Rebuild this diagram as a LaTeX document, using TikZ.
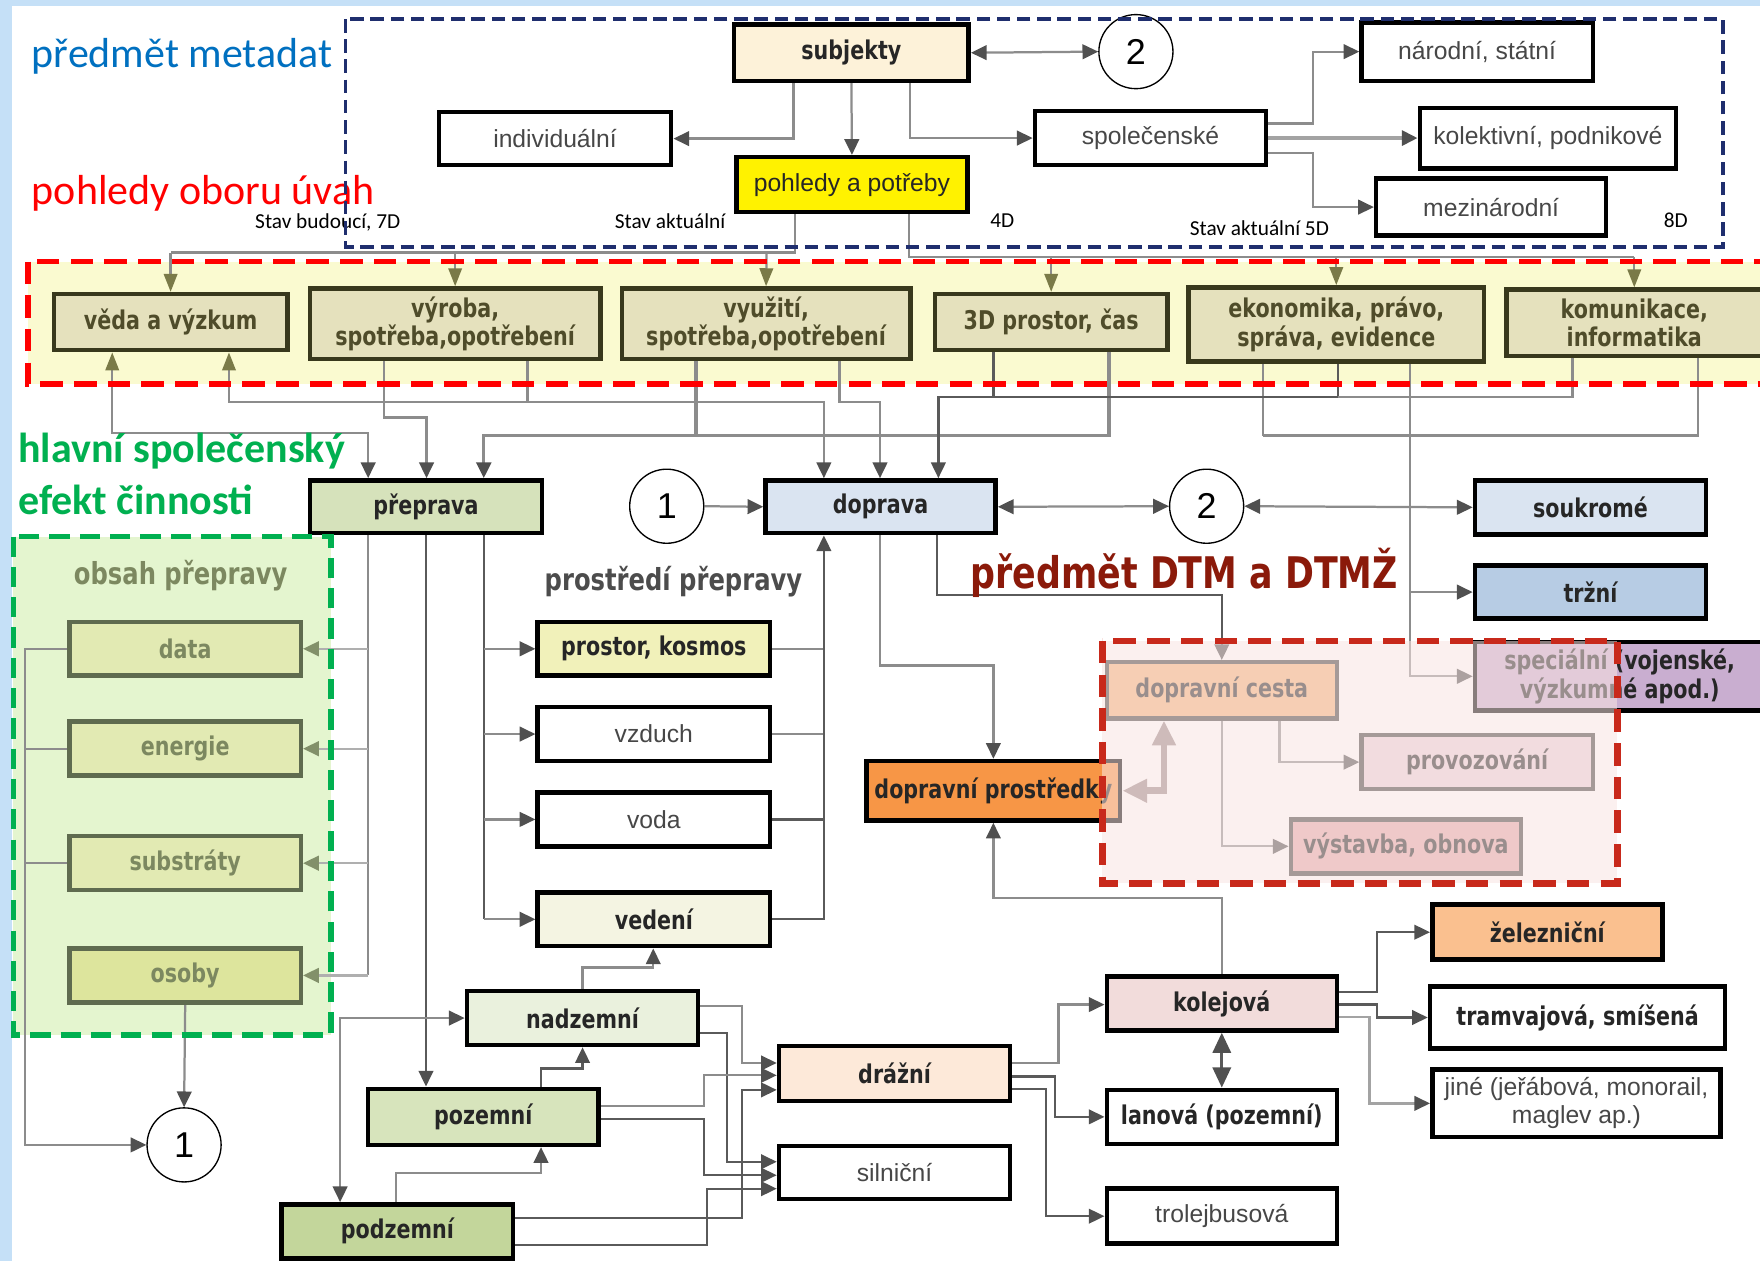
\documentclass[tikz,border=0pt]{standalone}
\usepackage{fontspec}
\setmainfont{DejaVu Sans}
\newfontfamily\djc[FakeStretch=0.8]{DejaVu Sans}
\newfontfamily\libs{Liberation Sans}
\newfontfamily\carl{Carlito}
\usetikzlibrary{arrows.meta,calc}
\definecolor{bgblue}{HTML}{C5E0F7}
\definecolor{cream}{HTML}{FDF2D9}
\definecolor{bandfill}{HTML}{FAFAD0}
\definecolor{bandnode}{HTML}{E5E1BD}
\definecolor{bandborder}{HTML}{38381C}
\definecolor{bandtext}{HTML}{4F4C2A}
\definecolor{olivetip}{HTML}{7A7A48}
\definecolor{prepfill}{HTML}{D6E2BB}
\definecolor{doprfill}{HTML}{DAE4F1}
\definecolor{trzfill}{HTML}{B7CCE4}
\definecolor{greenfill}{HTML}{E4F5CF}
\definecolor{contfill}{HTML}{E2EAB3}
\definecolor{osobyfill}{HTML}{DDE59D}
\definecolor{contborder}{HTML}{5F6B4F}
\definecolor{conttext}{HTML}{7C8860}
\definecolor{conttip}{HTML}{82906A}
\definecolor{kosmosfill}{HTML}{F1F1BA}
\definecolor{vedenifill}{HTML}{F4F4E2}
\definecolor{orangefill}{HTML}{F79646}
\definecolor{cestafill}{HTML}{F3B47C}
\definecolor{provozfill}{HTML}{EBD4DC}
\definecolor{vystavfill}{HTML}{E5AAAC}
\definecolor{specialfill}{HTML}{C9AED0}
\definecolor{nadzfill}{HTML}{EAF1DD}
\definecolor{pozemfill}{HTML}{D7E4BC}
\definecolor{podzfill}{HTML}{C3D69B}
\definecolor{draznifill}{HTML}{FDE9D9}
\definecolor{kolejfill}{HTML}{F2DCDB}
\definecolor{zelezfill}{HTML}{FAC08F}
\definecolor{lgray}{HTML}{8C8C8C}
\definecolor{dgray}{HTML}{5A5A5A}
\definecolor{tipgray}{HTML}{505050}
\definecolor{bandred}{HTML}{FF0000}
\definecolor{metablue}{HTML}{1F2E6E}
\definecolor{pinkborder}{HTML}{C8291B}
\definecolor{pinkov}{HTML}{F9E4E2}
\definecolor{titleblue}{HTML}{0070C0}
\definecolor{titlegreen}{HTML}{00B050}
\definecolor{dtmred}{HTML}{8B1A0A}
\definecolor{fatgray}{HTML}{9A8A8A}
\pgfdeclarelayer{regions}
\pgfdeclarelayer{edges}
\pgfdeclarelayer{over}
\pgfsetlayers{regions,edges,main,over}
\newcommand\bxn[6]{\node[#6, minimum width={(#4-#2)*0.5pt}, minimum height={(#5-#3)*0.5pt}] (#1) at ({(#2+#4)/2},{(#3+#5)/2})}
\tikzset{
  bx/.style={draw=black, line width=2pt, rectangle, inner sep=1pt, align=center, fill=white},
  tb/.style={font=\djc\bfseries\fontsize{11.5}{13}\selectfont, text=black!85},
  tn/.style={font=\libs\fontsize{11}{12.5}\selectfont, text=black!72},
  bandbx/.style={bx, draw=bandborder, fill=bandnode, font=\djc\bfseries\fontsize{11.5}{12.5}\selectfont, text=bandtext},
  cont/.style={bx, draw=contborder, fill=contfill, font=\djc\bfseries\fontsize{11.5}{13}\selectfont, text=conttext},
  num/.style={circle, draw=black, line width=0.6pt, minimum size=33pt, inner sep=0pt, fill=white, font=\libs\fontsize{16}{16}\selectfont},
  ln/.style={draw=lgray, line width=1pt},
  dln/.style={draw=dgray, line width=1pt},
  tipg/.style={-{Triangle[length=7pt,width=6.5pt,color=tipgray]}},
  ar/.style={ln, tipg},
  dar/.style={ln, {Triangle[length=7pt,width=6.5pt,color=tipgray]}-{Triangle[length=7pt,width=6.5pt,color=tipgray]}},
  arO/.style={ln, -{Triangle[length=8pt,width=6pt,color=olivetip]}},
  arOb/.style={ln, {Triangle[length=8pt,width=6pt,color=olivetip]}-{Triangle[length=7pt,width=6.5pt,color=tipgray]}},
  arG/.style={draw=lgray!70, line width=1pt, -{Triangle[length=7pt,width=6.5pt,color=conttip]}},
  sm/.style={font=\carl\fontsize{9.5}{11}\selectfont, inner sep=0pt},
}
\begin{document}
\begin{tikzpicture}[x=0.5pt,y=-0.5pt]
\useasboundingbox (0,0) rectangle (1568,1123);
\begin{pgfonlayer}{regions}
\fill[bgblue] (0,0) rectangle (1568,1123);
\fill[white] (11,5) rectangle (1568,1123);
\fill[bandfill] (25,233) rectangle (1575,342);
\fill[greenfill] (12,478) rectangle (295,922);
\end{pgfonlayer}

% ---------- titles ----------
\node[font=\carl\fontsize{18.7}{20}\selectfont, text=titleblue, anchor=west, inner sep=0pt] (t1) at (28,50) {předmět metadat};
\node[font=\carl\fontsize{18.7}{20}\selectfont, text=bandred, anchor=west, inner sep=0pt] (t2) at (28,172) {pohledy oboru úvah};
\node[sm] (s1) at (292,198) {Stav budoucí, 7D};
\node[sm] (s2) at (597,197) {Stav aktuální};
\node[sm] (s3) at (893,197) {4D};
\node[sm] (s4) at (1122,203) {Stav aktuální 5D};
\node[sm] (s5) at (1493,196) {8D};
\node[font=\carl\bfseries\fontsize{18.7}{20}\selectfont, text=titlegreen, anchor=west, inner sep=0pt] (t3) at (16,402) {hlavní společenský};
\node[font=\carl\bfseries\fontsize{18.7}{20}\selectfont, text=titlegreen, anchor=west, inner sep=0pt] (t4) at (16,445) {efekt činnosti};
\node[font=\djc\bfseries\fontsize{13.5}{15}\selectfont, text=conttext] (t5) at (161,513) {obsah přepravy};
\node[font=\djc\bfseries\fontsize{13.5}{15}\selectfont, text=black!70] (t6) at (600,518) {prostředí přepravy};
\node[font=\djc\bfseries\fontsize{19.4}{21}\selectfont, text=dtmred] (t7) at (1055,510) {předmět DTM a DTMŽ};

% ---------- top nodes ----------
\bxn{subj}{654}{22}{863}{72}{bx,tb,fill=cream}{subjekty};
\node[num] (c2t) at (1012,46) {2};
\bxn{indiv}{391}{100}{598}{147}{bx,tn}{individuální};
\bxn{pohl}{656}{140}{862}{189}{bx,tn,fill=yellow,text=black!85}{pohledy a potřeby};
\bxn{spol}{922}{99}{1128}{147}{bx,tn}{společenské};
\bxn{narod}{1213}{20}{1419}{72}{bx,tn}{národní, státní};
\bxn{kolekt}{1265}{96}{1493}{150}{bx,tn}{kolektivní, podnikové};
\bxn{mezin}{1226}{159}{1431}{210}{bx,tn}{mezinárodní};

% ---------- band ----------
\bxn{veda}{48}{262}{256}{312}{bandbx}{věda a výzkum};
\bxn{vyroba}{276}{257}{535}{320}{bandbx}{výroba,\\spotřeba,opotřebení};
\bxn{vyuziti}{554}{257}{811}{320}{bandbx}{využití,\\spotřeba,opotřebení};
\bxn{prost3d}{833}{262}{1040}{312}{bandbx}{3D prostor, čas};
\bxn{ekon}{1059}{256}{1322}{322}{bandbx}{ekonomika, právo,\\správa, evidence};
\bxn{komun}{1342}{258}{1570}{317}{bandbx}{komunikace,\\informatika};

% ---------- row 2 ----------
\bxn{prep}{276}{428}{483}{475}{bx,tb,fill=prepfill}{přeprava};
\node[num] (c1) at (594,451) {1};
\bxn{dopr}{682}{428}{887}{475}{bx,tb,fill=doprfill}{doprava};
\node[num] (c2) at (1075,451) {2};
\bxn{soukr}{1314}{428}{1520}{476}{bx,tb,fill=doprfill}{soukromé};
\bxn{trzni}{1314}{504}{1520}{551}{bx,tb,fill=trzfill}{tržní};

% ---------- content ----------
\bxn{data}{62}{554}{268}{602}{cont}{data};
\bxn{energie}{62}{643}{268}{691}{cont}{energie};
\bxn{substr}{62}{745}{268}{793}{cont}{substráty};
\bxn{osoby}{62}{845}{268}{893}{cont,fill=osobyfill}{osoby};
\node[num] (c1b) at (164,1020) {1};

% ---------- environment ----------
\bxn{kosmos}{479}{554}{686}{602}{bx,tb,fill=kosmosfill}{prostor, kosmos};
\bxn{vzduch}{479}{630}{686}{678}{bx,tn}{vzduch};
\bxn{voda}{479}{706}{686}{754}{bx,tn}{voda};
\bxn{vedeni}{479}{795}{686}{843}{bx,tb,fill=vedenifill}{vedení};

% ---------- DTM ----------
\bxn{prostr}{772}{678}{998}{731}{bx,tb,fill=orangefill}{dopravní prostředky};
\bxn{cesta}{986}{590}{1191}{640}{bx,tb,fill=cestafill,draw=black!75}{dopravní cesta};
\bxn{provoz}{1213}{655}{1419}{703}{bx,tb,fill=provozfill,draw=black!75}{provozování};
\bxn{vystav}{1150}{730}{1355}{778}{bx,tb,fill=vystavfill,draw=black!75}{výstavba, obnova};
\bxn{special}{1314}{572}{1572}{633}{bx,tb,fill=specialfill}{speciální (vojenské,\\výzkumné apod.)};

% ---------- bottom ----------
\bxn{nadz}{416}{883}{622}{931}{bx,tb,fill=nadzfill}{nadzemní};
\bxn{pozem}{328}{970}{533}{1020}{bx,tb,fill=pozemfill}{pozemní};
\bxn{podz}{251}{1073}{457}{1121}{bx,tb,fill=podzfill}{podzemní};
\bxn{drazni}{694}{932}{900}{981}{bx,tb,fill=draznifill}{drážní};
\bxn{silni}{694}{1021}{900}{1068}{bx,tn}{silniční};
\bxn{kolej}{986}{870}{1191}{918}{bx,tb,fill=kolejfill}{kolejová};
\bxn{lanova}{986}{971}{1191}{1019}{bx,tb}{lanová (pozemní)};
\bxn{trolej}{986}{1059}{1191}{1108}{bx,tn}{trolejbusová};
\bxn{zelez}{1276}{806}{1481}{855}{bx,tb,fill=zelezfill}{železniční};
\bxn{tramv}{1274}{879}{1537}{934}{bx,tb}{tramvajová, smíšená};
\bxn{jine}{1276}{953}{1533}{1013}{bx,tn}{jiné (jeřábová, monorail,\\maglev ap.)};

% ---------- connectors ----------
\begin{pgfonlayer}{edges}
% top
\draw[dar] (subj.east) -- (c2t.west);
\draw[ar] (subj.south -| 707,0) |- (indiv.east);
\draw[ar] (subj.south) -- (pohl.north);
\draw[ar] (subj.south -| 811,0) |- (spol.west);
\draw[ar] (spol.east |- 0,110) -- (1170,110) |- (narod.west);
\draw[ar, line width=2pt, draw=lgray!80] (spol.east) -- (kolekt.west);
\draw[ar] (spol.east |- 0,136) -- (1170,136) |- (mezin.west);
% into band
\draw[ln] (pohl.south -| 708,0) |- (152,225);
\draw[arO] (152,225) -- (veda.north);
\draw[arO] (405.5,225) -- (vyroba.north);
\draw[arO] (683,225) -- (vyuziti.north);
\draw[ln] (pohl.south -| 810,0) |- (1456,229);
\draw[arO] (936.5,229) -- (prost3d.north);
\draw[arO] (1190.5,229) -- (ekon.north);
\draw[arO] (1456,229) -- (komun.north);
% below band
\draw[arOb] (veda.south -| 100,0) |- (328,386) -- (prep.north -| 328,0);
\draw[arOb] (veda.south -| 204,0) |- (734,358) -- (dopr.north -| 734,0);
\draw[ln] (vyroba.south -| 470,0) -- (470,358);
\draw[ar] (vyroba.south -| 342,0) |- (380,372) -- (prep.north -| 380,0);
\draw[ar, line width=1.5pt] (vyuziti.south -| 620,0) |- (431,388) -- (prep.north -| 431,0);
\draw[ln, line width=1.5pt] (prost3d.south -| 988,0) |- (620,388);
\draw[ln] (ekon.south -| 1125,0) -- (1125,388);
\draw[ln] (komun.south -| 1513,0) |- (1125,388);
\draw[ar] (vyuziti.south -| 748,0) |- (784,358) -- (dopr.north -| 784,0);
\draw[ar, draw=dgray] (prost3d.south -| 885,0) |- (836,354) -- (dopr.north -| 836,0);
\draw[dln] (ekon.south -| 1192,0) |- (885,354);
\draw[ln] (komun.south -| 1401,0) |- (1192,354);
\draw[ar] (ekon.south -| 1256,0) |- (trzni.west);
\draw[ar] (1256,527.5) |- (special.west);
% row 2
\draw[ar] (c1.east) -- (dopr.west);
\draw[dar] (dopr.east) -- (c2.west);
\draw[dar] (c2.east) -- (soukr.west);
% content
\draw[ln] (prep.south -| 328,0) -- (328,869);
\draw[arG] (328,578) -- (data.east);
\draw[arG] (328,667) -- (energie.east);
\draw[arG] (328,769) -- (substr.east);
\draw[arG] (328,869) -- (osoby.east);
\draw[ar] (data.west) -- (22,578) |- (c1b.west);
\draw[ln] (energie.west) -- (22,667);
\draw[ln] (substr.west) -- (22,769);
\draw[ar] (osoby.south) -- (c1b.north);
\draw[ar, draw=dgray] (prep.south) -- (pozem.north -| prep.south);
% environment
\draw[dln] (prep.south -| 431,0) -- (431,819);
\draw[ar] (431,578) -- (kosmos.west);
\draw[ar] (431,654) -- (vzduch.west);
\draw[ar] (431,730) -- (voda.west);
\draw[ar] (431,819) -- (vedeni.west);
\draw[ln] (kosmos.east) -- (734,578);
\draw[ln] (vzduch.east) -- (734,654);
\draw[dln] (voda.east) -- (734,730);
\draw[ar, draw=dgray] (vedeni.east) -| (dopr.south -| 734,0);
\draw[ar] (dopr.south -| 784,0) |- (885,593) -- (prostr.north);
\draw[ar, draw=dgray] (dopr.south -| 835,0) |- (1088.5,530) -- (cesta.north);
\draw[draw=fatgray, line width=3pt, {Triangle[length=11pt,width=10pt]}-{Triangle[length=11pt,width=10pt]}] (cesta.south -| 1037,0) |- (prostr.east);
\draw[ar] (cesta.south -| 1140,0) |- (provoz.west);
\draw[ar] (cesta.south) |- (vystav.west);
\draw[ar] (kolej.north) |- (885,800) -- (prostr.south);
% bottom
\coordinate (j1) at (380,907);
\draw[ar] (j1) -- (nadz.west);
\draw[ar] (j1) -| (podz.north -| 303,0);
\draw[ar] (nadz.north) |- (582,862) -- (vedeni.south -| 582,0);
\draw[ar, draw=dgray] (pozem.north -| 482,0) |- (519,952) -- (nadz.south);
\draw[ar] (podz.north -| 353,0) |- (482,1045) -- (pozem.south -| 482,0);
\draw[ar] (nadz.east |- 0,896) -| (661,947) -- (drazni.west |- 0,947);
\draw[ar, draw=dgray] (nadz.east |- 0,920) -| (648,1035) -- (silni.west |- 0,1035);
\draw[ar] (pozem.east |- 0,985) -| (627,958) -- (drazni.west |- 0,958);
\draw[ar, draw=dgray] (pozem.east |- 0,997) -| (627,1047) -- (silni.west |- 0,1047);
\draw[ar, draw=dgray] (podz.east |- 0,1085) -| (661,971) -- (drazni.west |- 0,971);
\draw[ar, draw=dgray] (podz.east |- 0,1109) -| (630,1059) -- (silni.west |- 0,1059);
\draw[ar] (drazni.east |- 0,947) -| (943,895) -- (kolej.west |- 0,895);
\draw[ar, draw=dgray] (drazni.east |- 0,959) -| (940,995) -- (lanova.west);
\draw[ar, draw=dgray] (drazni.east |- 0,970) -| (932,1083.5) -- (trolej.west);
\draw[draw=dgray, line width=1.5pt, {Triangle[length=9pt,width=8pt,color=tipgray]}-{Triangle[length=9pt,width=8pt,color=tipgray]}] (kolej.south) -- (lanova.north);
\draw[ar, draw=dgray] (kolej.east |- 0,884) -| (1227,830.5) -- (zelez.west);
\draw[ar, draw=dgray] (kolej.east |- 0,895) -| (1227,906.5) -- (tramv.west);
\draw[ar, draw=lgray!80] (kolej.east |- 0,906) -| (1220,983) -- (jine.west);
\end{pgfonlayer}

% ---------- overlays and dashed frames ----------
\begin{pgfonlayer}{over}
\fill[pinkov, fill opacity=0.55] (982,571) rectangle (1441,787);
\draw[pinkborder, line width=3pt, dash pattern=on 10pt off 5pt] (982,571) rectangle (1441,787);
\draw[bandred, line width=2.5pt, dash pattern=on 10pt off 5pt] (25,233) rectangle (1580,342);
\draw[metablue, line width=1.5pt, dash pattern=on 6pt off 3pt] (308,17) rectangle (1535,220);
\draw[titlegreen, line width=2.5pt, dash pattern=on 9pt off 4.5pt] (12,478) rectangle (295,922);
\end{pgfonlayer}
\end{tikzpicture}
\end{document}
